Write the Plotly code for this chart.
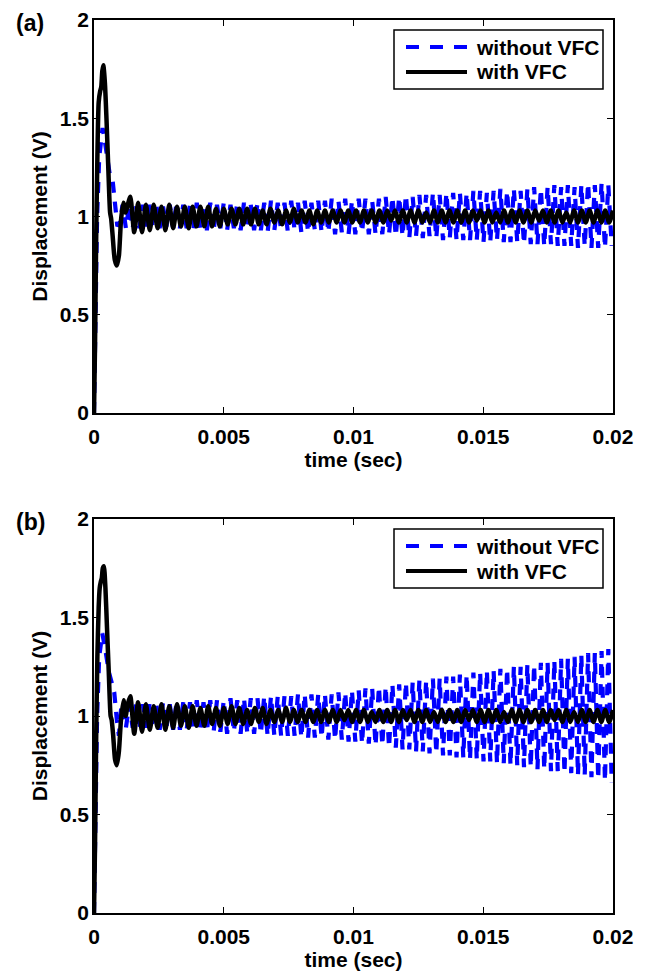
import plotly.graph_objects as go

# ---- panel (a) data ----
# transient part, read point by point
a_black_tr_t = [0, 0.00004, 0.00008, 0.00013, 0.00018, 0.00024, 0.00028, 0.00032, 0.00036,
                0.00042, 0.00048, 0.00055, 0.00062, 0.00066, 0.00072, 0.00080, 0.00088,
                0.00096, 0.00104, 0.00113, 0.00122, 0.00130]
a_black_tr_y = [0, 0.35, 0.85, 1.30, 1.58, 1.64, 1.66, 1.74, 1.77,
                1.68, 1.50, 1.25, 1.02, 0.99, 0.90, 0.78, 0.75,
                0.80, 0.98, 1.07, 1.02, 1.06]
a_blue_tr_t = [0, 0.00006, 0.00012, 0.00020, 0.00027, 0.00033, 0.00040, 0.00050,
               0.00060, 0.00072, 0.00082, 0.00090, 0.00100]
a_blue_tr_y = [0, 0.50, 1.00, 1.30, 1.40, 1.45, 1.40, 1.30,
               1.22, 1.18, 1.05, 0.95, 0.97]

# steady oscillation, one value per half cycle
a_black_ss = [1.10, 0.92, 1.07, 0.92, 1.06, 0.93, 1.06, 0.94, 1.05, 0.93,
              1.06, 0.94, 1.05, 0.95, 1.05, 0.94, 1.05, 0.95, 1.05, 0.95,
              1.05, 0.95, 1.04, 0.95, 1.04, 0.96, 1.04, 0.96, 1.04, 0.96,
              1.04, 0.96, 1.04, 0.96, 1.03, 0.96, 1.04, 0.97, 1.03, 0.96,
              1.03, 0.97, 1.04, 0.97, 1.03, 0.97, 1.03, 0.96, 1.03, 0.97,
              1.03, 0.97, 1.03, 0.97, 1.03, 0.97, 1.03, 0.97, 1.03, 0.97,
              1.03, 0.97, 1.03, 0.97, 1.03, 0.97, 1.03, 0.98, 1.03, 0.97,
              1.03, 0.97, 1.03, 0.97, 1.03, 0.97, 1.02, 0.97, 1.03, 0.97,
              1.03, 0.97, 1.03, 0.97, 1.03, 0.97, 1.03, 0.97, 1.03, 0.98,
              1.03, 0.97, 1.03, 0.97, 1.02, 0.97, 1.03, 0.97, 1.03, 0.97,
              1.03, 0.97, 1.03, 0.97, 1.03, 0.98, 1.03, 0.97, 1.03, 0.97,
              1.03, 0.97, 1.02, 0.97, 1.03, 0.97, 1.03, 0.97, 1.03, 0.97,
              1.03, 0.97, 1.03, 0.97, 1.03]
a_blue_ss = [1.06, 0.94, 1.06, 0.94, 1.05, 0.94, 1.06, 0.95, 1.06, 0.94,
             1.06, 0.94, 1.05, 0.95, 1.06, 0.94, 1.07, 0.94, 1.06, 0.94,
             1.06, 0.93, 1.07, 0.94, 1.06, 0.93, 1.07, 0.93, 1.06, 0.94,
             1.07, 0.93, 1.06, 0.94, 1.07, 0.93, 1.07, 0.94, 1.06, 0.93,
             1.07, 0.93, 1.07, 0.92, 1.08, 0.93, 1.07, 0.93, 1.07, 0.92,
             1.08, 0.93, 1.07, 0.92, 1.08, 0.92, 1.07, 0.93, 1.08, 0.92,
             1.08, 0.92, 1.09, 0.91, 1.08, 0.92, 1.09, 0.91, 1.08, 0.91,
             1.09, 0.92, 1.09, 0.91, 1.08, 0.91, 1.09, 0.91, 1.10, 0.91,
             1.10, 0.90, 1.10, 0.90, 1.11, 0.89, 1.10, 0.90, 1.11, 0.89,
             1.11, 0.90, 1.12, 0.89, 1.11, 0.88, 1.12, 0.89, 1.12, 0.88,
             1.12, 0.88, 1.12, 0.88, 1.13, 0.88, 1.13, 0.87, 1.12, 0.87,
             1.13, 0.88, 1.14, 0.87, 1.13, 0.87, 1.14, 0.87, 1.13, 0.86,
             1.14, 0.86, 1.15, 0.86, 1.14, 0.85, 1.15, 0.86, 1.16, 0.85,
             1.15, 0.85, 1.16, 0.85, 1.15, 0.84, 1.16, 0.85, 1.17, 0.84,
             1.16, 0.84, 1.17, 0.84, 1.16, 0.85]

# ---- panel (b) data ----
b_black_tr_t = [0, 0.00004, 0.00008, 0.00013, 0.00018, 0.00022, 0.00026, 0.00030, 0.00034,
                0.00038, 0.00044, 0.00050, 0.00057, 0.00064, 0.00068, 0.00074, 0.00081,
                0.00088, 0.00096, 0.00104, 0.00114, 0.00122, 0.00130]
b_black_tr_y = [0, 0.35, 0.85, 1.30, 1.55, 1.65, 1.68, 1.70, 1.75,
                1.76, 1.65, 1.45, 1.22, 1.00, 0.98, 0.90, 0.78,
                0.75, 0.82, 0.98, 1.08, 1.00, 1.06]
b_blue_tr_t = [0, 0.00006, 0.00012, 0.00020, 0.00026, 0.00032, 0.00042, 0.00050,
               0.00058, 0.00066, 0.00078, 0.00088, 0.00096, 0.00104]
b_blue_tr_y = [0, 0.50, 1.00, 1.30, 1.38, 1.42, 1.35, 1.28,
               1.22, 1.18, 1.12, 0.98, 0.90, 1.03]

b_black_ss = [1.10, 0.91, 1.07, 0.92, 1.06, 0.93, 1.05, 0.94, 1.06, 0.93,
              1.05, 0.94, 1.06, 0.95, 1.05, 0.94, 1.05, 0.95, 1.04, 0.95,
              1.05, 0.96, 1.04, 0.95, 1.04, 0.96, 1.05, 0.96, 1.04, 0.96,
              1.03, 0.96, 1.04, 0.97, 1.04, 0.96, 1.03, 0.97, 1.03, 0.97,
              1.04, 0.97, 1.03, 0.97, 1.03, 0.97, 1.03, 0.97, 1.03, 0.97,
              1.03, 0.97, 1.03, 0.97, 1.03, 0.98, 1.03, 0.97, 1.03, 0.97,
              1.03, 0.97, 1.02, 0.97, 1.03, 0.97, 1.03, 0.97, 1.03, 0.97,
              1.03, 0.98, 1.03, 0.97, 1.03, 0.97, 1.03, 0.97, 1.02, 0.97,
              1.03, 0.97, 1.03, 0.97, 1.03, 0.97, 1.03, 0.98, 1.03, 0.97,
              1.03, 0.97, 1.03, 0.97, 1.03, 0.97, 1.02, 0.97, 1.03, 0.97,
              1.03, 0.97, 1.03, 0.97, 1.03, 0.97, 1.03, 0.97, 1.03, 0.98,
              1.03, 0.97, 1.03, 0.97, 1.02, 0.97, 1.03, 0.97, 1.03, 0.97,
              1.03, 0.97, 1.03, 0.97, 1.03]
b_blue_ss = [1.06, 0.94, 1.06, 0.94, 1.06, 0.93, 1.06, 0.94, 1.06, 0.94,
             1.06, 0.93, 1.07, 0.94, 1.06, 0.93, 1.07, 0.93, 1.07, 0.93,
             1.07, 0.93, 1.08, 0.92, 1.07, 0.92, 1.08, 0.92, 1.08, 0.92,
             1.08, 0.91, 1.09, 0.92, 1.08, 0.91, 1.09, 0.91, 1.09, 0.91,
             1.09, 0.91, 1.10, 0.90, 1.10, 0.90, 1.10, 0.90, 1.10, 0.90,
             1.10, 0.90, 1.11, 0.89, 1.11, 0.89, 1.11, 0.89, 1.11, 0.89,
             1.11, 0.88, 1.11, 0.88, 1.12, 0.88, 1.12, 0.87, 1.13, 0.87,
             1.13, 0.86, 1.14, 0.86, 1.14, 0.85, 1.15, 0.85, 1.15, 0.84,
             1.16, 0.84, 1.16, 0.83, 1.17, 0.83, 1.17, 0.82, 1.18, 0.82,
             1.18, 0.81, 1.19, 0.81, 1.19, 0.80, 1.20, 0.80, 1.20, 0.79,
             1.21, 0.79, 1.21, 0.78, 1.22, 0.78, 1.22, 0.77, 1.23, 0.77,
             1.23, 0.76, 1.24, 0.76, 1.24, 0.75, 1.25, 0.75, 1.25, 0.74,
             1.26, 0.74, 1.26, 0.73, 1.27, 0.73, 1.27, 0.72, 1.28, 0.72,
             1.29, 0.71, 1.29, 0.71, 1.30, 0.70, 1.31, 0.70, 1.32, 0.69,
             1.32, 0.68, 1.33, 0.67, 1.34, 0.66]

# sampling grid of the steady part (one sample per half period)
BLACK_T0, BLACK_DT = 0.0014, 0.00015
BLUE_T0, BLUE_DT = 0.0011, 0.00013

x_ticks = [0, 0.005, 0.01, 0.015, 0.02]
x_tick_text = ["0", "0.005", "0.01", "0.015", "0.02"]
y_ticks = [0, 0.5, 1, 1.5, 2]
y_tick_text = ["0", "0.5", "1", "1.5", "2"]
series_names = ["without VFC", "with VFC"]

FONT = "Liberation Sans, Arial, sans-serif"
FS = 21
BLUE = "#0000ff"
BLUE_DASH = "11px,9px"


def grid(t0, dt, n):
    return [round(t0 + i * dt, 6) for i in range(n)]


def panel_traces(blue_tr_t, blue_tr_y, blue_ss, black_tr_t, black_tr_y, black_ss, xa, ya):
    blue_t = blue_tr_t + grid(BLUE_T0, BLUE_DT, len(blue_ss))
    black_t = black_tr_t + grid(BLACK_T0, BLACK_DT, len(black_ss))
    return [
        go.Scatter(x=blue_t, y=blue_tr_y + blue_ss, mode="lines", name=series_names[0],
                   line=dict(color=BLUE, width=4.2, dash=BLUE_DASH),
                   xaxis=xa, yaxis=ya, showlegend=False),
        go.Scatter(x=black_t, y=black_tr_y + black_ss, mode="lines", name=series_names[1],
                   line=dict(color="black", width=4.5, shape="spline", smoothing=0.6),
                   xaxis=xa, yaxis=ya, showlegend=False),
    ]


fig = go.Figure()
for tr in panel_traces(a_blue_tr_t, a_blue_tr_y, a_blue_ss,
                       a_black_tr_t, a_black_tr_y, a_black_ss, "x", "y"):
    fig.add_trace(tr)
for tr in panel_traces(b_blue_tr_t, b_blue_tr_y, b_blue_ss,
                       b_black_tr_t, b_black_tr_y, b_black_ss, "x2", "y2"):
    fig.add_trace(tr)

# the page body adds an 8px margin, so the figure is laid out in screen px minus 8
OFF = 8
W, H = 646 - OFF, 974 - OFF


def px_x(x):
    return (x - OFF) / W


def px_y(y):
    return 1 - (y - OFF) / H


x_dom = [px_x(94), px_x(613)]
ya_dom = [px_y(413), px_y(20)]
yb_dom = [px_y(913), px_y(519)]

axis_common = dict(showline=True, linecolor="black", linewidth=1.5, mirror="ticks",
                   ticks="inside", ticklen=6, tickwidth=1, tickcolor="black",
                   showgrid=False, zeroline=False, automargin=False,
                   tickfont=dict(family=FONT, size=FS, color="black", weight="bold"))


def xaxis(anchor):
    return dict(axis_common, domain=x_dom, range=[0, 0.02], anchor=anchor,
                tickvals=x_ticks, ticktext=x_tick_text, ticklabelstandoff=4,
                title=dict(text="time (sec)", standoff=2,
                           font=dict(family=FONT, size=FS, color="black", weight="bold")))


def yaxis(anchor, dom):
    return dict(axis_common, domain=dom, range=[0, 2], anchor=anchor,
                tickvals=y_ticks, ticktext=y_tick_text, ticklabelstandoff=-1,
                title=dict(text="Displacement (V)", standoff=6,
                           font=dict(family=FONT, size=FS, color="black", weight="bold")))


def legend_parts(top):
    # legend box drawn like the MATLAB one: box, two sample lines, two labels
    rows = [top + 17, top + 42]
    shapes = [
        dict(type="rect", xref="paper", yref="paper", x0=px_x(394), x1=px_x(603),
             y0=px_y(top + 59), y1=px_y(top), line=dict(color="black", width=1.5),
             fillcolor="white", layer="above"),
        dict(type="line", xref="paper", yref="paper", x0=px_x(406), x1=px_x(467),
             y0=px_y(rows[0]), y1=px_y(rows[0]), layer="above",
             line=dict(color=BLUE, width=4, dash="13px,11px")),
        dict(type="line", xref="paper", yref="paper", x0=px_x(406), x1=px_x(467),
             y0=px_y(rows[1]), y1=px_y(rows[1]), layer="above",
             line=dict(color="black", width=4)),
    ]
    notes = [dict(text=name, x=px_x(474), y=px_y(r), xref="paper", yref="paper",
                  xanchor="left", yanchor="middle", showarrow=False,
                  font=dict(family=FONT, size=FS, color="black", weight="bold"))
             for name, r in zip(series_names, rows)]
    return shapes, notes


shapes_a, notes_a = legend_parts(30)
shapes_b, notes_b = legend_parts(529)

panel_labels = [
    dict(text=lab, x=px_x(14), y=px_y(yc), xref="paper", yref="paper",
         xanchor="left", yanchor="middle", showarrow=False,
         font=dict(family=FONT, size=23, color="black", weight="bold"))
    for lab, yc in [("(a)", 23), ("(b)", 522)]
]

fig.update_layout(
    width=W, height=H,
    margin=dict(l=0, r=0, t=0, b=0),
    paper_bgcolor="white", plot_bgcolor="white",
    xaxis=xaxis("y"), yaxis=yaxis("x", ya_dom),
    xaxis2=xaxis("y2"), yaxis2=yaxis("x2", yb_dom),
    shapes=shapes_a + shapes_b,
    annotations=panel_labels + notes_a + notes_b,
)

fig.write_html("out.html")
